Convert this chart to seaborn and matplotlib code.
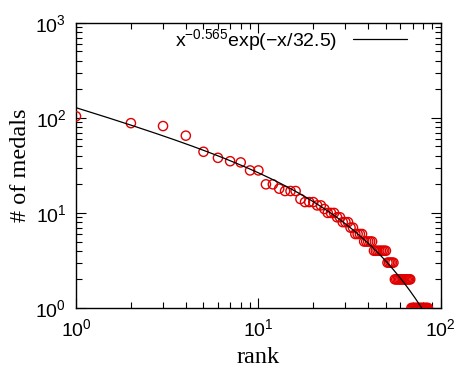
import numpy as np
import pandas as pd
import matplotlib
matplotlib.use("Agg")
import matplotlib.pyplot as plt
import seaborn as sns

# medal counts ordered by rank
medals = [104, 88, 82, 65, 44, 38, 35, 34, 28, 28,
          20, 20, 18, 17, 17, 17, 14, 13, 13, 13,
          12, 12, 11, 10, 10, 10, 9, 9, 8, 8,
          8, 7, 7, 6, 6, 6, 6, 5, 5, 5,
          5, 5, 4, 4, 4, 4, 4, 4, 4, 4,
          3, 3, 3, 3, 3, 2, 2, 2, 2, 2,
          2, 2, 2, 2, 2, 2, 2, 2, 1, 1,
          1, 1, 1, 1, 1, 1, 1, 1, 1, 1,
          1, 1, 1, 1, 1]
ranks = list(range(1, len(medals) + 1))

fit_amp = 132.0
fit_exp = -0.565
fit_scale = 32.5
fit_label = r"$\mathregular{x^{-0.565}exp(-x/32.5)}$"

sns.set_theme(style="ticks")
plt.rcParams["font.family"] = ["Liberation Sans", "DejaVu Sans"]
plt.rcParams["mathtext.fontset"] = "custom"
plt.rcParams["mathtext.rm"] = "Liberation Sans"
plt.rcParams["mathtext.it"] = "Liberation Sans:italic"
plt.rcParams["mathtext.bf"] = "Liberation Sans:bold"
plt.rcParams["text.color"] = "black"
plt.rcParams["axes.labelcolor"] = "black"

df = pd.DataFrame({"rank": ranks, "medals": medals})
xf = np.logspace(0, 2, 400)
fit_df = pd.DataFrame({"x": xf, "y": fit_amp * xf**fit_exp * np.exp(-xf / fit_scale)})

fig = plt.figure(figsize=(4.75, 3.74), dpi=100)
ax = fig.add_axes([0.16, 0.1765, 0.768, 0.7625])

sns.scatterplot(data=df, x="rank", y="medals", ax=ax, marker="o", s=44,
                facecolors="none", edgecolor="#e00000", linewidth=1.0,
                legend=False, zorder=3)
sns.lineplot(data=fit_df, x="x", y="y", ax=ax, color="black", linewidth=0.9,
             label=fit_label, zorder=4)

ax.set_xscale("log")
ax.set_yscale("log")
ax.set_xlim(1, 100)
ax.set_ylim(1, 1000)

ax.tick_params(which="both", direction="in", top=True, right=True,
               labelsize=14, colors="black")
ax.tick_params(which="major", length=7, width=0.8, pad=7)
ax.tick_params(which="minor", length=4, width=0.8)
for s in ax.spines.values():
    s.set_color("black")
    s.set_linewidth(1.0)

ax.set_xlabel("rank", fontsize=17.5, family="Liberation Serif", labelpad=5, color="black")
ax.set_ylabel("# of medals", fontsize=17.5, family="Liberation Serif", labelpad=3, color="black")

leg = ax.legend(loc="upper right", frameon=False, markerfirst=False,
                fontsize=14, handlelength=2.8, borderaxespad=0.1,
                bbox_to_anchor=(0.935, 1.02), labelcolor="black")

fig.savefig("out.png", dpi=100)
